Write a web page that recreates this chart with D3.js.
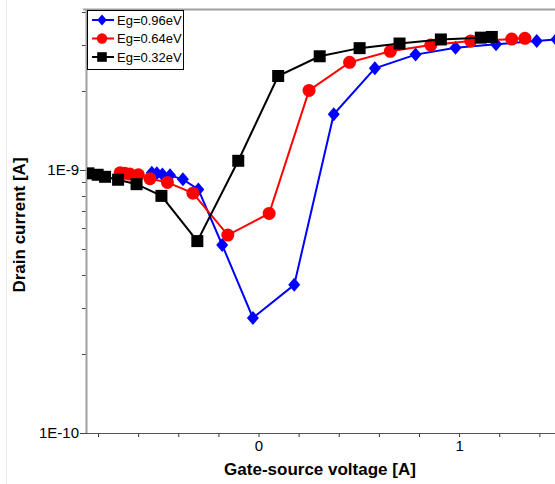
<!DOCTYPE html>
<html>
<head>
<meta charset="utf-8">
<script src="https://cdn.jsdelivr.net/npm/d3@7"></script>
<style>
  body { margin: 0; background: #fff; }
  svg { display: block; font-family: "Liberation Sans", Arial, sans-serif; }
</style>
</head>
<body>
<svg id="chart" width="555" height="484"></svg>
<script>
// data
var seriesNames = ['Eg=0.96eV', 'Eg=0.64eV', 'Eg=0.32eV'];
var seriesColors = ['#0000ff', '#ff0000', '#000000'];
var seriesShapes = ['diamond', 'circle', 'square'];

var vgs096 = [-0.532, -0.507, -0.479, -0.441, -0.377, -0.300, -0.181, -0.028, 0.178, 0.375, 0.580, 0.783, 0.982, 1.184, 1.387, 1.485];
var id096 = [9.77e-10, 9.72e-10, 9.63e-10, 9.55e-10, 9.22e-10, 8.44e-10, 5.19e-10, 2.74e-10, 3.66e-10, 1.63e-9, 2.44e-9, 2.75e-9, 2.92e-9, 3.01e-9, 3.10e-9, 3.14e-9];

var vgs064 = [-0.690, -0.667, -0.642, -0.599, -0.541, -0.454, -0.327, -0.153, 0.053, 0.252, 0.454, 0.657, 0.859, 1.058, 1.262, 1.328];
var id064 = [9.77e-10, 9.72e-10, 9.66e-10, 9.60e-10, 9.27e-10, 8.98e-10, 8.17e-10, 5.66e-10, 6.84e-10, 2.01e-9, 2.57e-9, 2.83e-9, 2.99e-9, 3.10e-9, 3.15e-9, 3.17e-9];

var vgs032 = [-0.848, -0.802, -0.765, -0.700, -0.608, -0.484, -0.305, -0.101, 0.098, 0.305, 0.504, 0.703, 0.909, 1.108, 1.163];
var id032 = [9.72e-10, 9.60e-10, 9.43e-10, 9.19e-10, 8.84e-10, 7.98e-10, 5.37e-10, 1.085e-9, 2.28e-9, 2.71e-9, 2.91e-9, 3.03e-9, 3.14e-9, 3.19e-9, 3.21e-9];

var xTicks = [-0.8, -0.6, -0.4, -0.2, 0, 0.2, 0.4, 0.6, 0.8, 1, 1.2, 1.4];
var xTickLabels = { '0': '0', '1': '1' };
var yTicks = [2e-10, 3e-10, 4e-10, 5e-10, 6e-10, 7e-10, 8e-10, 9e-10, 2e-9, 3e-9, 4e-9];
var yMajor = [1e-10, 1e-9];
var yMajorLabels = ['1E-10', '1E-9'];

(function () {
  var series = [
    { x: vgs096, y: id096 },
    { x: vgs064, y: id064 },
    { x: vgs032, y: id032 }
  ];

  var svg = d3.select('#chart');
  var pLeft = 87, pRight = 555, pTop = 9, pBottom = 433;

  var x = d3.scaleLinear().domain([-0.855, 1.478]).range([pLeft, pRight]);
  var y = d3.scaleLog().domain([1e-10, 4.1e-9]).range([pBottom, pTop]);

  // faint outer frame edge
  svg.append('line')
    .attr('x1', 6.5).attr('x2', 6.5).attr('y1', 0).attr('y2', 484)
    .attr('stroke', '#ecebe6');

  svg.append('defs').append('clipPath').attr('id', 'plot')
    .append('rect')
    .attr('x', pLeft).attr('y', pTop)
    .attr('width', pRight - pLeft).attr('height', pBottom - pTop);

  // x axis
  var gx = svg.append('g').attr('transform', 'translate(0,' + pBottom + ')');
  gx.call(d3.axisBottom(x).tickValues(xTicks).tickSize(4)
    .tickFormat(function (d) { return xTickLabels[String(d)] || ''; }));
  gx.select('.domain').remove();
  gx.selectAll('line').attr('stroke', '#333');
  gx.selectAll('text').attr('font-size', 15).attr('fill', '#000').attr('font-family', null).attr('dy', '0.75em');
  gx.append('line').attr('x1', pLeft - 4).attr('x2', pRight).attr('y1', 0.5).attr('y2', 0.5)
    .attr('stroke', '#555').attr('stroke-width', 1.2);

  // y axis
  var gy = svg.append('g').attr('transform', 'translate(' + pLeft + ',0)');
  gy.selectAll('line.minor').data(yTicks).enter().append('line')
    .attr('class', 'minor')
    .attr('x1', -5).attr('x2', 0)
    .attr('y1', function (d) { return Math.round(y(d)) + 0.5; })
    .attr('y2', function (d) { return Math.round(y(d)) + 0.5; })
    .attr('stroke', '#444');
  gy.selectAll('line.major').data(yMajor).enter().append('line')
    .attr('class', 'major')
    .attr('x1', -7).attr('x2', 0)
    .attr('y1', function (d) { return Math.round(y(d)) + 0.5; })
    .attr('y2', function (d) { return Math.round(y(d)) + 0.5; })
    .attr('stroke', '#444');
  gy.selectAll('text').data(yMajor).enter().append('text')
    .attr('x', -8)
    .attr('y', function (d) { return y(d); })
    .attr('dy', '0.35em')
    .attr('text-anchor', 'end')
    .attr('font-size', 15)
    .text(function (d, i) { return yMajorLabels[i]; });
  gy.append('line').attr('x1', -0.5).attr('x2', -0.5).attr('y1', pTop).attr('y2', pBottom)
    .attr('stroke', '#a0a0a0').attr('stroke-width', 2);

  // top frame line
  svg.append('line').attr('x1', pLeft - 4).attr('x2', pRight).attr('y1', pTop + 0.5).attr('y2', pTop + 0.5)
    .attr('stroke', '#a0a0a0').attr('stroke-width', 2);

  // axis titles
  svg.append('text')
    .attr('x', 320).attr('y', 475)
    .attr('text-anchor', 'middle')
    .attr('font-size', 17).attr('font-weight', 'bold')
    .text('Gate-source voltage [A]');
  svg.append('text')
    .attr('transform', 'translate(25,225) rotate(-90)')
    .attr('text-anchor', 'middle')
    .attr('font-size', 17).attr('font-weight', 'bold')
    .text('Drain current [A]');

  function marker(sel, shape, color, s) {
    if (shape === 'circle') {
      sel.append('circle').attr('r', 6.5 * s).attr('fill', color);
    } else if (shape === 'square') {
      sel.append('rect').attr('x', -6 * s).attr('y', -6 * s).attr('width', 12 * s).attr('height', 12 * s).attr('fill', color);
    } else {
      sel.append('path').attr('d', 'M0,' + (-7 * s) + 'L' + (6 * s) + ',0L0,' + (7 * s) + 'L' + (-6 * s) + ',0Z').attr('fill', color);
    }
  }

  var plot = svg.append('g').attr('clip-path', 'url(#plot)');
  var line = d3.line()
    .x(function (d) { return x(d[0]); })
    .y(function (d) { return y(d[1]); });

  series.forEach(function (s, k) {
    var pts = s.x.map(function (v, i) { return [v, s.y[i]]; });
    plot.append('path')
      .attr('d', line(pts))
      .attr('fill', 'none')
      .attr('stroke', seriesColors[k])
      .attr('stroke-width', 2);
    plot.selectAll('g.m' + k).data(pts).enter().append('g')
      .attr('class', 'm' + k)
      .attr('transform', function (d) { return 'translate(' + x(d[0]) + ',' + y(d[1]) + ')'; })
      .each(function () { marker(d3.select(this), seriesShapes[k], seriesColors[k], 1); });
  });

  // legend
  var lg = svg.append('g').attr('transform', 'translate(' + pLeft + ',' + (pTop + 1) + ')');
  lg.append('rect').attr('x', 0.5).attr('y', 0.5).attr('width', 96).attr('height', 59)
    .attr('fill', '#fff').attr('stroke', '#000');
  seriesNames.forEach(function (name, k) {
    var row = lg.append('g').attr('transform', 'translate(0,' + (10 + k * 18.5) + ')');
    row.append('line').attr('x1', 5).attr('x2', 27).attr('y1', 0).attr('y2', 0)
      .attr('stroke', seriesColors[k]).attr('stroke-width', 2);
    var m = row.append('g').attr('transform', 'translate(15,0)');
    marker(m, seriesShapes[k], seriesColors[k], 0.8);
    row.append('text').attr('x', 30).attr('y', 0).attr('dy', '0.35em')
      .attr('font-size', 13).text(name);
  });
})();
</script>
</body>
</html>
